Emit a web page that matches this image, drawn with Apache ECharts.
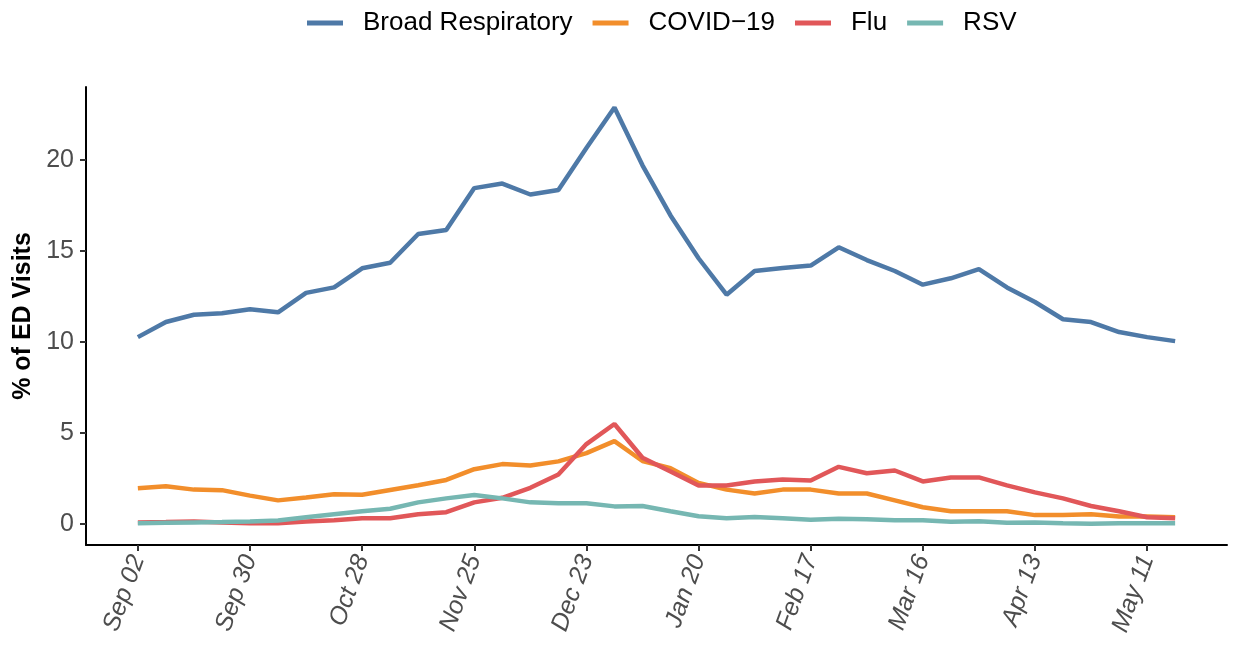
<!DOCTYPE html>
<html>
<head>
<meta charset="utf-8">
<script src="https://cdn.jsdelivr.net/npm/echarts@6/dist/echarts.min.js"></script>
<style>
  html, body { margin: 0; padding: 0; background: #fff; }
  #main { width: 1233px; height: 649px; }
</style>
</head>
<body>
<div id="main"></div>
<script>
// weekly dates (week index 0..37)
const weeks = ['Sep 02', 'Sep 09', 'Sep 16', 'Sep 23', 'Sep 30', 'Oct 07', 'Oct 14', 'Oct 21',
  'Oct 28', 'Nov 04', 'Nov 11', 'Nov 18', 'Nov 25', 'Dec 02', 'Dec 09', 'Dec 16', 'Dec 23',
  'Dec 30', 'Jan 06', 'Jan 13', 'Jan 20', 'Jan 27', 'Feb 03', 'Feb 10', 'Feb 17', 'Feb 24',
  'Mar 02', 'Mar 09', 'Mar 16', 'Mar 23', 'Mar 30', 'Apr 06', 'Apr 13', 'Apr 20', 'Apr 27',
  'May 04', 'May 11', 'May 18'];

// tick positions on the x axis (week index) and y axis
const xTicks = [0, 4, 8, 12, 16, 20, 24, 28, 32, 36];
const yTicks = [0, 5, 10, 15, 20];

const broad = [10.27, 11.1, 11.5, 11.58, 11.8, 11.63, 12.7, 13.0, 14.05, 14.35, 15.93, 16.15,
  18.45, 18.7, 18.1, 18.35, 20.65, 22.87, 19.7, 16.95, 14.6, 12.6, 13.9, 14.07, 14.2, 15.2,
  14.5, 13.9, 13.15, 13.5, 14.0, 13.0, 12.2, 11.25, 11.1, 10.55, 10.27, 10.05];
const covid = [1.98, 2.09, 1.9, 1.87, 1.57, 1.31, 1.47, 1.65, 1.62, 1.88, 2.14, 2.43, 3.02,
  3.3, 3.22, 3.45, 3.9, 4.56, 3.47, 3.08, 2.27, 1.9, 1.69, 1.9, 1.9, 1.69, 1.69, 1.31, 0.93,
  0.71, 0.71, 0.71, 0.5, 0.5, 0.55, 0.42, 0.42, 0.38];
const flu = [0.1, 0.12, 0.15, 0.1, 0.05, 0.05, 0.15, 0.22, 0.33, 0.33, 0.55, 0.66, 1.2, 1.45,
  2.0, 2.73, 4.4, 5.5, 3.65, 2.9, 2.13, 2.13, 2.35, 2.45, 2.4, 3.15, 2.8, 2.95, 2.35, 2.57,
  2.57, 2.13, 1.75, 1.42, 1.0, 0.71, 0.38, 0.33];
const rsv = [0.05, 0.08, 0.1, 0.12, 0.15, 0.2, 0.38, 0.55, 0.71, 0.85, 1.2, 1.42, 1.6, 1.42,
  1.2, 1.15, 1.15, 0.98, 1.0, 0.71, 0.44, 0.33, 0.4, 0.33, 0.25, 0.3, 0.27, 0.22, 0.22, 0.13,
  0.16, 0.08, 0.1, 0.05, 0.03, 0.05, 0.05, 0.05];

const seriesNames = ['Broad Respiratory', 'COVID\u221219', 'Flu', 'RSV'];
const seriesValues = [broad, covid, flu, rsv];
const colors = ['#4e79a7', '#f28e2b', '#e15759', '#76b7b2'];

const font = '"Liberation Sans", Arial, sans-serif';

const chart = echarts.init(document.getElementById('main'));

const option = {
  animation: false,
  color: colors,
  legend: {
    top: 5,
    left: 302,
    icon: 'rect',
    itemWidth: 36,
    itemHeight: 5,
    itemGap: 20,
    data: seriesNames,
    textStyle: {
      fontFamily: font,
      fontSize: 26,
      color: '#000',
      padding: [0, 0, 0, 15]
    }
  },
  grid: {
    left: 86,
    right: 6,
    top: 87,
    bottom: 104,
    outerBoundsMode: 'none'
  },
  xAxis: {
    type: 'value',
    min: -1.85,
    max: 38.85,
    splitLine: { show: false },
    axisLine: { show: true, onZero: false, lineStyle: { color: '#000', width: 2 } },
    axisTick: {
      show: true,
      customValues: xTicks,
      length: 6,
      lineStyle: { color: '#333', width: 2 }
    },
    axisLabel: {
      customValues: xTicks,
      rotate: 70,
      margin: 11,
      fontFamily: font,
      fontSize: 25,
      fontStyle: 'italic',
      color: '#4d4d4d',
      formatter: (v) => weeks[Math.round(v)]
    }
  },
  yAxis: {
    type: 'value',
    min: -1.14,
    max: 24.0,
    name: '% of ED Visits',
    nameLocation: 'middle',
    nameRotate: 90,
    nameGap: 50,
    nameTextStyle: {
      fontFamily: font,
      fontSize: 25,
      fontWeight: 'bold',
      color: '#000'
    },
    splitLine: { show: false },
    axisLine: { show: true, onZero: false, lineStyle: { color: '#000', width: 2 } },
    axisTick: {
      show: true,
      customValues: yTicks,
      length: 6,
      lineStyle: { color: '#333', width: 2 }
    },
    axisLabel: {
      customValues: yTicks,
      margin: 12,
      fontFamily: font,
      fontSize: 25,
      color: '#4d4d4d'
    }
  },
  series: seriesNames.map((name, k) => ({
    name: name,
    type: 'line',
    showSymbol: false,
    symbol: 'none',
    lineStyle: { width: 4.5, color: colors[k] },
    itemStyle: { color: colors[k] },
    data: seriesValues[k].map((v, i) => [i, v])
  }))
};

chart.setOption(option);
</script>
</body>
</html>
